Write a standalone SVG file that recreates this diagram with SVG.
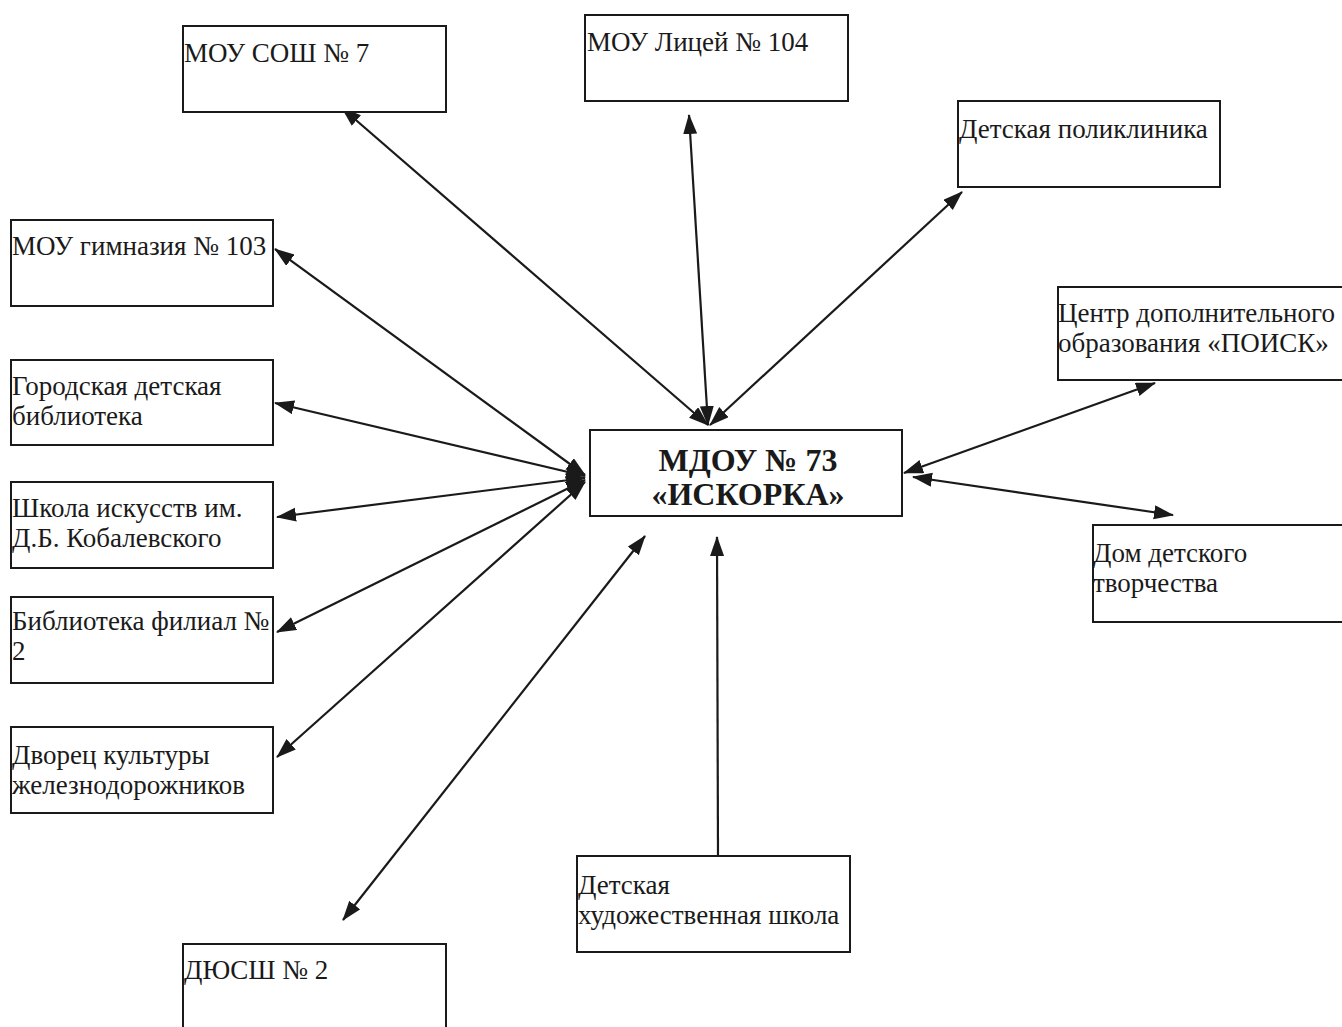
<svg xmlns="http://www.w3.org/2000/svg" width="1342" height="1027" viewBox="0 0 1342 1027">
<defs>
<style>
.box{fill:#fff;stroke:#1a1a1a;stroke-width:2}
.t{font-family:"Liberation Serif","Times New Roman",serif;font-size:27px;fill:#1a1a1a}
.tb{font-family:"Liberation Serif","Times New Roman",serif;font-size:32px;font-weight:bold;fill:#1a1a1a}
.c{fill:none;stroke:#1a1a1a;stroke-width:2.2}
</style>
<marker id="ah" markerUnits="userSpaceOnUse" markerWidth="22" markerHeight="16" refX="19" refY="7" orient="auto-start-reverse" viewBox="0 0 22 16">
<path d="M0,0 L20,7 L0,14 Z" fill="#1a1a1a"/>
</marker>
</defs>
<rect width="1342" height="1027" fill="#fff"/>
<g id="connectors">
<line class="c" x1="342" y1="108" x2="708" y2="425" marker-start="url(#ah)" marker-end="url(#ah)"/>
<line class="c" x1="689" y1="115" x2="708" y2="425" marker-start="url(#ah)" marker-end="url(#ah)"/>
<line class="c" x1="962" y1="192" x2="710" y2="425" marker-start="url(#ah)" marker-end="url(#ah)"/>
<line class="c" x1="275" y1="249" x2="585" y2="475" marker-start="url(#ah)" marker-end="url(#ah)"/>
<line class="c" x1="275" y1="403" x2="585" y2="476" marker-start="url(#ah)" marker-end="url(#ah)"/>
<line class="c" x1="277" y1="517" x2="585" y2="478" marker-start="url(#ah)" marker-end="url(#ah)"/>
<line class="c" x1="277" y1="632" x2="585" y2="480" marker-start="url(#ah)" marker-end="url(#ah)"/>
<line class="c" x1="277" y1="757" x2="585" y2="482" marker-start="url(#ah)" marker-end="url(#ah)"/>
<line class="c" x1="343" y1="920" x2="645" y2="536" marker-start="url(#ah)" marker-end="url(#ah)"/>
<line class="c" x1="718" y1="856" x2="717" y2="537" marker-end="url(#ah)"/>
<line class="c" x1="1155" y1="383" x2="904" y2="473" marker-start="url(#ah)" marker-end="url(#ah)"/>
<line class="c" x1="1173" y1="515" x2="913" y2="477" marker-start="url(#ah)" marker-end="url(#ah)"/>
</g>
<g id="center">
<rect class="box" x="590" y="430" width="312" height="86"/>
<text class="tb" x="748" y="471" text-anchor="middle">МДОУ № 73</text>
<text class="tb" x="748" y="505" text-anchor="middle">«ИСКОРКА»</text>
</g>
<g id="n-sosh7">
<rect class="box" x="183" y="26" width="263" height="86"/>
<text class="t" x="184" y="62">МОУ СОШ № 7</text>
</g>
<g id="n-licey104">
<rect class="box" x="585" y="15" width="263" height="86"/>
<text class="t" x="587" y="51">МОУ Лицей № 104</text>
</g>
<g id="n-poliklinika">
<rect class="box" x="958" y="101" width="262" height="86"/>
<text class="t" x="959" y="138">Детская поликлиника</text>
</g>
<g id="n-poisk">
<rect class="box" x="1058" y="287" width="290" height="93"/>
<text class="t" x="1058" y="322">Центр дополнительного</text>
<text class="t" x="1058" y="352">образования «ПОИСК»</text>
</g>
<g id="n-ddt">
<rect class="box" x="1093" y="525" width="255" height="97"/>
<text class="t" x="1093" y="562">Дом детского</text>
<text class="t" x="1093" y="592">творчества</text>
</g>
<g id="n-gimn103">
<rect class="box" x="11" y="220" width="262" height="86"/>
<text class="t" x="12" y="255">МОУ гимназия № 103</text>
</g>
<g id="n-gdb">
<rect class="box" x="11" y="360" width="262" height="85"/>
<text class="t" x="12" y="395">Городская детская</text>
<text class="t" x="12" y="425">библиотека</text>
</g>
<g id="n-shkola-isk">
<rect class="box" x="11" y="482" width="262" height="86"/>
<text class="t" x="12" y="517">Школа искусств им.</text>
<text class="t" x="12" y="547">Д.Б. Кобалевского</text>
</g>
<g id="n-bibl2">
<rect class="box" x="11" y="597" width="262" height="86"/>
<text class="t" x="12" y="630">Библиотека филиал №</text>
<text class="t" x="12" y="660">2</text>
</g>
<g id="n-dvorec">
<rect class="box" x="11" y="727" width="262" height="86"/>
<text class="t" x="12" y="764">Дворец культуры</text>
<text class="t" x="12" y="794">железнодорожников</text>
</g>
<g id="n-dyussh2">
<rect class="box" x="183" y="944" width="263" height="100"/>
<text class="t" x="184" y="979">ДЮСШ № 2</text>
</g>
<g id="n-dhsh">
<rect class="box" x="577" y="856" width="273" height="96"/>
<text class="t" x="578" y="894">Детская</text>
<text class="t" x="578" y="924">художественная школа</text>
</g>
</svg>
